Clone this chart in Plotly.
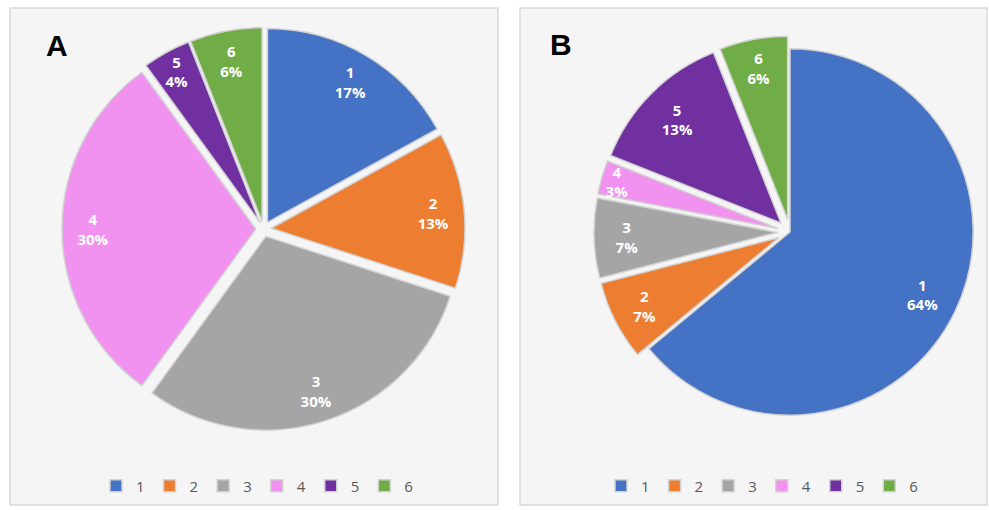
import plotly.graph_objects as go

# categories and shares (%)
labels = ["1", "2", "3", "4", "5", "6"]
values_a = [17, 13, 30, 30, 4, 6]
values_b = [64, 7, 7, 3, 13, 6]
panel_titles = ["A", "B"]

colors = ["#4472C4", "#ED7D31", "#A5A5A5", "#F292F0", "#7030A0", "#70AD47"]

W, H = 989, 510

def px_x(x):
	return x / W

def px_y(y):
	return 1 - y / H

pull_a = [0.04] * 6
pull_b = [0, 0.07, 0.07, 0.07, 0.07, 0.07]
dom_a = dict(x=[px_x(62), px_x(465)], y=[px_y(431), px_y(27)])
dom_b = dict(x=[px_x(594), px_x(986)], y=[px_y(428), px_y(36)])

fig = go.Figure()

def add_pie(values, pull, domain, legend, group, hole):
	# coloured slices, no text
	fig.add_trace(go.Pie(
		labels=labels, values=values, sort=False, direction="clockwise", rotation=0,
		pull=pull, marker=dict(colors=colors, line=dict(color="#d2d2d2", width=1.5)),
		textinfo="none", domain=domain, hoverinfo="label+percent",
		legend=legend, legendgroup=group,
	))
	# transparent ring on top, only to put the labels out near the rim
	fig.add_trace(go.Pie(
		labels=labels, values=values, sort=False, direction="clockwise", rotation=0,
		pull=pull, hole=hole, showlegend=False, hoverinfo="skip",
		marker=dict(colors=["rgba(0,0,0,0)"] * 6, line=dict(width=0)),
		texttemplate="%{label}<br>%{percent:.0%}", textposition="inside",
		insidetextorientation="horizontal",
		textfont=dict(color="white", size=15, family="Open Sans", weight="bold"),
		domain=domain, legend=legend, legendgroup=group + "_txt",
	))

add_pie(values_a, pull_a, dom_a, "legend", "a", 0.68)
add_pie(values_b, pull_b, dom_b, "legend2", "b", 0.6)

# panel frames
shapes = [
	dict(type="rect", xref="paper", yref="paper", x0=px_x(10), x1=px_x(498), y0=px_y(505), y1=px_y(8),
		line=dict(color="#d9d9d9", width=1.5), fillcolor="#f5f5f5", layer="below"),
	dict(type="rect", xref="paper", yref="paper", x0=px_x(520), x1=px_x(987), y0=px_y(505), y1=px_y(8),
		line=dict(color="#d9d9d9", width=1.5), fillcolor="#f5f5f5", layer="below"),
]

annotations = [
	dict(text=f"<b>{panel_titles[0]}</b>", x=px_x(57), y=px_y(45), xref="paper", yref="paper",
		xanchor="center", yanchor="middle", showarrow=False,
		font=dict(size=30, color="black", family="Liberation Sans")),
	dict(text=f"<b>{panel_titles[1]}</b>", x=px_x(561), y=px_y(44), xref="paper", yref="paper",
		xanchor="center", yanchor="middle", showarrow=False,
		font=dict(size=30, color="black", family="Liberation Sans")),
]

legend_style = dict(orientation="h", xanchor="center", yanchor="middle", bgcolor="rgba(0,0,0,0)",
	font=dict(size=15, color="#595959", family="Open Sans"), itemwidth=30, traceorder="normal")

fig.update_layout(
	width=W, height=H,
	margin=dict(l=0, r=0, t=0, b=0),
	paper_bgcolor="white",
	shapes=shapes,
	annotations=annotations,
	showlegend=True,
	uniformtext=dict(minsize=15, mode="show"),
	legend=dict(x=px_x(257), y=px_y(486), **legend_style),
	legend2=dict(x=px_x(762), y=px_y(486), **legend_style),
)

fig.write_html("out.html", config={"displayModeBar": False},
	post_script="document.body.style.margin='0';")
